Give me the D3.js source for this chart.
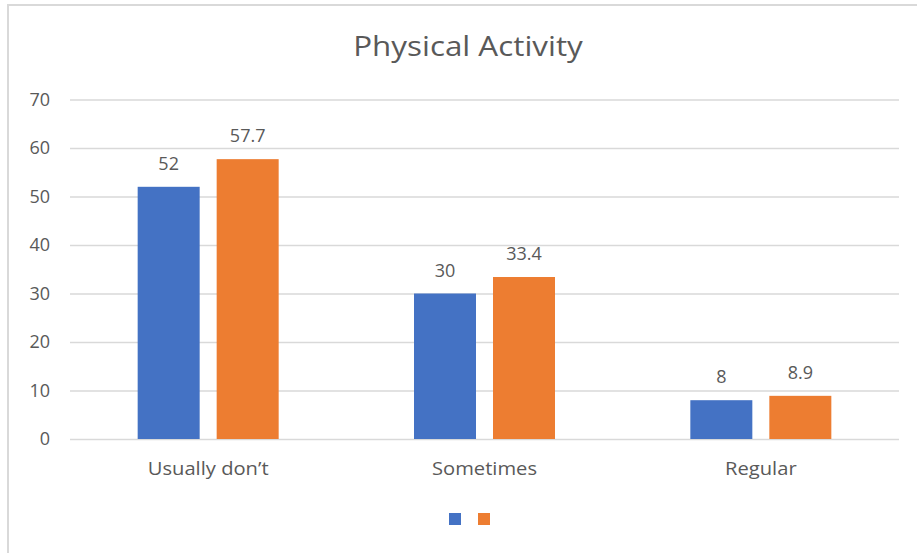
<!DOCTYPE html>
<html>
<head>
<meta charset="utf-8">
<script src="https://cdn.jsdelivr.net/npm/d3@7"></script>
<style>
  html, body { margin: 0; padding: 0; background: #fff; }
  svg { display: block; }
  text { font-family: "Open Sans", "Noto Sans", sans-serif; fill: #595959; }
</style>
</head>
<body>
<svg id="chart" width="917" height="553"></svg>
<script>
// Chart data
const title = "Physical Activity";
const categories = ["Usually don\u2019t", "Sometimes", "Regular"];
const seriesA = [52, 30, 8];
const seriesB = [57.7, 33.4, 8.9];
const yTicks = [0, 10, 20, 30, 40, 50, 60, 70];
const seriesColors = ["#4472C4", "#ED7D31"];

const svg = d3.select("#chart");
const W = 917, H = 553;
const plot = { left: 70, right: 899, top: 99.5, bottom: 439 };
const stretch = 1.12; // horizontal widening for the title and category names

// Chart area border (top and left edges fall inside the frame)
svg.append("rect")
  .attr("x", 8).attr("y", 5)
  .attr("width", W + 10).attr("height", H + 10)
  .attr("fill", "#fff")
  .attr("stroke", "#d9d9d9").attr("stroke-width", 2);

// Title
svg.append("g")
  .attr("transform", `translate(468,56) scale(${stretch},1)`)
  .append("text")
  .attr("text-anchor", "middle")
  .attr("font-size", 28)
  .text(title);

const x = d3.scaleBand().domain(categories).range([plot.left, plot.right]);
const y = d3.scaleLinear().domain([0, 70]).range([plot.bottom, plot.top]);

// Gridlines and value axis labels
const yAxis = d3.axisLeft(y).tickValues(yTicks).tickSize(-(plot.right - plot.left)).tickPadding(20);
const gy = svg.append("g").attr("transform", `translate(${plot.left},0)`).call(yAxis);
gy.select(".domain").remove();
gy.selectAll(".tick line").attr("stroke", "#d9d9d9").attr("stroke-width", 1.5);
gy.selectAll(".tick text").attr("font-size", 18).attr("fill", "#595959")
  .style("font-family", '"Open Sans", sans-serif');

// Category axis labels
const xAxis = d3.axisBottom(x).tickSize(0).tickFormat("");
const gx = svg.append("g").attr("transform", `translate(0,${plot.bottom})`).call(xAxis);
gx.select(".domain").remove();
gx.selectAll(".tick").append("g")
  .attr("transform", `translate(0,36) scale(${stretch},1)`)
  .append("text")
  .attr("text-anchor", "middle")
  .attr("font-size", 18)
  .attr("fill", "#595959")
  .style("font-family", '"Open Sans", sans-serif')
  .text(d => d);

// Bars: two series per category
const barW = 62, gap = 17;
const series = [seriesA, seriesB];
series.forEach((vals, si) => {
  const offset = si === 0 ? -(gap / 2 + barW) : gap / 2;
  const g = svg.append("g");
  g.selectAll("rect").data(vals).join("rect")
    .attr("x", (d, i) => x(categories[i]) + x.bandwidth() / 2 + offset)
    .attr("y", d => y(d))
    .attr("width", barW)
    .attr("height", d => y(0) - y(d))
    .attr("fill", seriesColors[si]);
  g.selectAll("text").data(vals).join("text")
    .attr("x", (d, i) => x(categories[i]) + x.bandwidth() / 2 + offset + barW / 2)
    .attr("y", d => y(d) - 17)
    .attr("text-anchor", "middle")
    .attr("font-size", 18)
    .text(d => d);
});

// Legend markers (series are unnamed)
const legend = svg.append("g").attr("transform", "translate(449,513)");
seriesColors.forEach((c, i) => {
  legend.append("rect").attr("x", i * 29).attr("y", 0)
    .attr("width", 12).attr("height", 12).attr("fill", c);
});
</script>
</body>
</html>
